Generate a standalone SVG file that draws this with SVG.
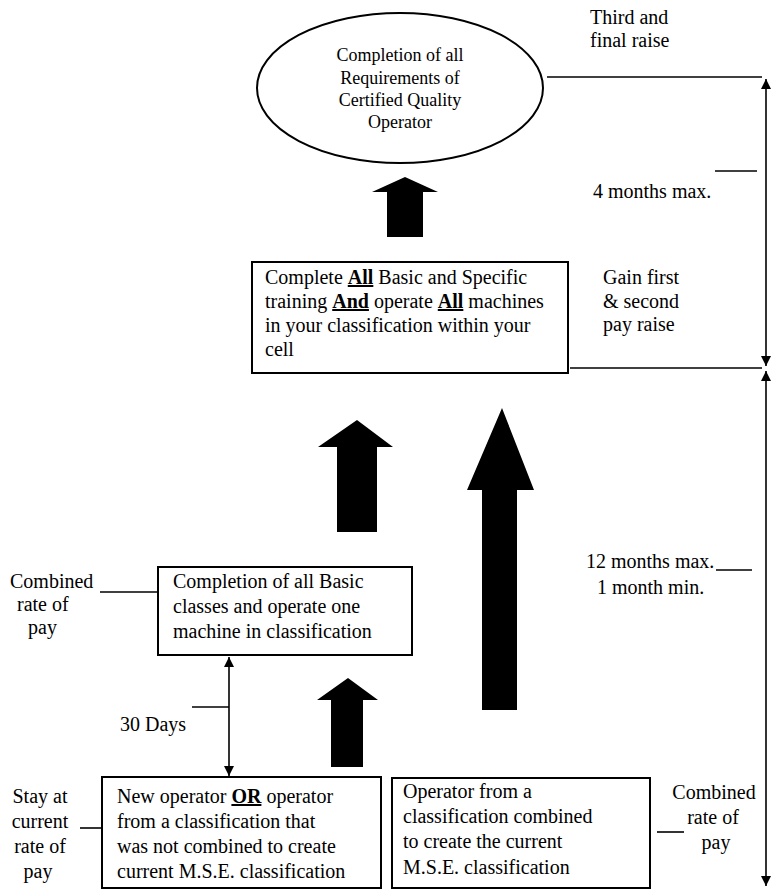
<svg xmlns="http://www.w3.org/2000/svg" width="774" height="890" viewBox="0 0 774 890">
<style>
.t { font-family: "Liberation Serif", "Times New Roman", serif; font-size: 20px; fill: #000; }
.e { font-size: 18px; text-anchor: middle; }
.m { text-anchor: middle; }
.u { font-weight: bold; text-decoration: underline; }
.box { fill: #fff; stroke: #000; stroke-width: 2; }
.ln { stroke: #000; stroke-width: 1.6; fill: none; }
.blk { fill: #000; stroke: none; }
</style>
<defs>
<marker id="ah" viewBox="0 0 10 10" refX="10" refY="5" markerWidth="10" markerHeight="10" markerUnits="userSpaceOnUse" orient="auto-start-reverse">
<path d="M0,0 L10,5 L0,10 z" fill="#000"/>
</marker>
</defs>

<g id="connectors">
<line class="ln" x1="547" y1="77" x2="762" y2="77"/>
<line class="ln" x1="766" y1="79" x2="766" y2="366" marker-start="url(#ah)" marker-end="url(#ah)"/>
<line class="ln" x1="715" y1="171" x2="757" y2="171"/>
<line class="ln" x1="570" y1="368" x2="762" y2="368"/>
<line class="ln" x1="766" y1="371" x2="766" y2="886" marker-start="url(#ah)" marker-end="url(#ah)"/>
<line class="ln" x1="716" y1="570" x2="752" y2="570"/>
<line class="ln" x1="100" y1="592" x2="158" y2="592"/>
<line class="ln" x1="229" y1="657" x2="229" y2="776" marker-start="url(#ah)" marker-end="url(#ah)"/>
<line class="ln" x1="192" y1="707" x2="229" y2="707"/>
<line class="ln" x1="80" y1="828" x2="102" y2="828"/>
<line class="ln" x1="657" y1="832" x2="684" y2="832"/>
<polygon class="blk" points="405,177 438,192 423,192 423,237 387,237 387,192 372,192"/>
<polygon class="blk" points="357,420 393,447 377,447 377,532 337,532 337,447 318,447"/>
<polygon class="blk" points="502,408 534,490 517,490 517,710 482,710 482,490 467,490"/>
<polygon class="blk" points="348,678 378,700 363,700 363,767 331,767 331,700 317,700"/>
</g>

<g id="n-cqo">
<ellipse cx="400" cy="88" rx="143" ry="75" fill="#fff" stroke="#000" stroke-width="2"/>
<text class="t e" x="400" y="61">Completion of all</text>
<text class="t e" x="400" y="84">Requirements of</text>
<text class="t e" x="400" y="106">Certified Quality</text>
<text class="t e" x="400" y="128">Operator</text>
</g>

<g id="n-third">
<text class="t" x="590" y="24">Third and</text>
<text class="t" x="590" y="47">final raise</text>
</g>

<g id="n-4months">
<text class="t" x="593" y="198">4 months max.</text>
</g>

<g id="n-all">
<rect class="box" x="252" y="262" width="316" height="111"/>
<text class="t" x="265" y="284">Complete <tspan class="u">All</tspan> Basic and Specific</text>
<text class="t" x="265" y="308">training <tspan class="u">And</tspan> operate <tspan class="u">All</tspan> machines</text>
<text class="t" x="265" y="332">in your classification within your</text>
<text class="t" x="265" y="356">cell</text>
</g>

<g id="n-gain">
<text class="t" x="603" y="284">Gain first</text>
<text class="t" x="603" y="308">&amp; second</text>
<text class="t" x="603" y="331">pay raise</text>
</g>

<g id="n-12months">
<text class="t" x="586" y="568">12 months max.</text>
<text class="t" x="597" y="594">1 month min.</text>
</g>

<g id="n-combined-left">
<text class="t" x="10" y="588">Combined</text>
<text class="t" x="17" y="611">rate of</text>
<text class="t" x="28" y="634">pay</text>
</g>

<g id="n-basic">
<rect class="box" x="158" y="567" width="254" height="88"/>
<text class="t" x="173" y="588">Completion of all Basic</text>
<text class="t" x="173" y="613">classes and operate one</text>
<text class="t" x="173" y="638">machine in classification</text>
</g>

<g id="n-30days">
<text class="t" x="120" y="731">30 Days</text>
</g>

<g id="n-stay">
<text class="t m" x="40" y="803">Stay at</text>
<text class="t m" x="40" y="828">current</text>
<text class="t m" x="40" y="853">rate of</text>
<text class="t m" x="38" y="878">pay</text>
</g>

<g id="n-new">
<rect class="box" x="102" y="777" width="279" height="111"/>
<text class="t" x="117" y="803">New operator <tspan class="u">OR</tspan> operator</text>
<text class="t" x="117" y="828">from a classification that</text>
<text class="t" x="117" y="853">was not combined to create</text>
<text class="t" x="117" y="878">current M.S.E. classification</text>
</g>

<g id="n-combined-op">
<rect class="box" x="392" y="778" width="258" height="110"/>
<text class="t" x="403" y="798">Operator from a</text>
<text class="t" x="403" y="823">classification combined</text>
<text class="t" x="403" y="848">to create the current</text>
<text class="t" x="403" y="874">M.S.E. classification</text>
</g>

<g id="n-combined-right">
<text class="t m" x="714" y="799">Combined</text>
<text class="t m" x="713" y="824">rate of</text>
<text class="t m" x="716" y="849">pay</text>
</g>
</svg>
